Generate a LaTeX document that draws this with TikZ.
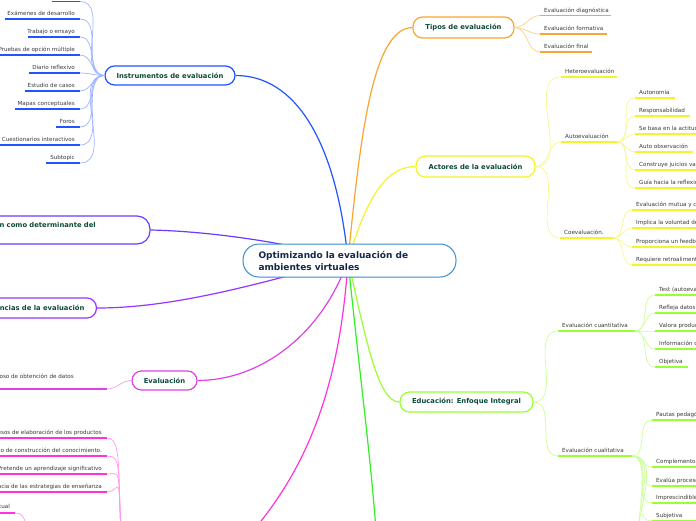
\documentclass[tikz,border=0pt]{standalone}
\usepackage{fontspec}
\setmainfont{DejaVu Sans}
\definecolor{ntext}{HTML}{0E4A3A}
\definecolor{rtext}{HTML}{14284B}
\definecolor{ltext}{HTML}{3A3A3A}
\definecolor{cRoot}{HTML}{3A8CCB}
\definecolor{cBlue}{HTML}{1F55FF}
\definecolor{cBlueL}{HTML}{9DB6FF}
\definecolor{cOr}{HTML}{F9A531}
\definecolor{cOrL}{HTML}{FCD08A}
\definecolor{cYe}{HTML}{F4F42A}
\definecolor{cYeL}{HTML}{F8F890}
\definecolor{cGr}{HTML}{99FF33}
\definecolor{cGrL}{HTML}{CCFF99}
\definecolor{cGreen}{HTML}{33EE22}
\definecolor{cMag}{HTML}{E040E8}
\definecolor{cMagL}{HTML}{F0A0F0}
\definecolor{cPink}{HTML}{FF33DD}
\definecolor{cPinkL}{HTML}{FF99EE}
\definecolor{cInd}{HTML}{6A3CFF}
\definecolor{cPur}{HTML}{9933FF}
\tikzset{
  mainnode/.style={draw, line width=1.2pt, rounded corners=9.5pt, fill=white,
    text=ntext, font=\fontsize{6.8}{8.2}\selectfont\bfseries, inner xsep=9pt,
    minimum height=20pt},
  leaf/.style={text=ltext, font=\fontsize{5.6}{6.6}\selectfont, inner sep=0pt},
  mainline/.style={line width=1.2pt},
  subline/.style={line width=0.7pt},
  uline/.style={line width=1.7pt}
}
\newcommand\lfR[6]{%
  \coordinate (#1) at (#3,#5);
  \draw[uline,#2] (#3,#5) -- (#4,#5);
  \node[leaf,anchor=base west] (#1t) at ({#3+4},{#5-3.5}) {#6};}
\newcommand\lfL[6]{%
  \coordinate (#1) at (#4,#5);
  \draw[uline,#2] (#3,#5) -- (#4,#5);
  \node[leaf,anchor=base east] (#1t) at ({#4-5},{#5-4}) {#6};}
\begin{document}
\begin{tikzpicture}[x=1pt,y=-1pt]
\useasboundingbox (0,0) rectangle (696,520);
\clip (0,0) rectangle (696,520);
\fill[white] (0,0) rectangle (696,520);

\coordinate (hub) at (348,260);

% ---------- main nodes ----------
\node[mainnode, draw=cOr, minimum width=101pt, minimum height=21pt] (tipos) at (463.5,27.5) {Tipos de evaluación};
\node[mainnode, draw=cYe, minimum width=119pt, minimum height=21pt] (actores) at (475.5,166.5) {Actores de la evaluación};
\node[mainnode, draw=cGr, minimum width=133pt] (edu) at (466.5,402) {Educación: Enfoque Integral};
\node[mainnode, draw=cBlue, minimum width=130pt, minimum height=19pt] (instr) at (170,75.5) {Instrumentos de evaluación};
\node[mainnode, draw=cInd, minimum width=210pt, minimum height=28pt, rounded corners=13pt, text width=186pt, align=left] (det) at (45,230) {La evaluación como determinante del\\aprendizaje};
\node[mainnode, draw=cPur, minimum height=20pt, anchor=east, inner xsep=12pt] (tend) at (97,308) {Tendencias de la evaluación};
\node[mainnode, draw=cMag, minimum width=65pt, minimum height=19pt] (eval) at (164.5,380.5) {Evaluación};

\coordinate (greenend) at (376,530);
\coordinate (pinkend) at (252,532);

% ---------- main connectors ----------
\draw[mainline,cOr] (hub) .. controls (360,140) and (372,28) .. (tipos.west);
\draw[mainline,cBlue] (hub) .. controls (336,140) and (295,75.5) .. (instr.east);
\draw[mainline,cYe] (hub) .. controls (366,200) and (385,166.5) .. (actores.west);
\draw[mainline,cGr] (hub) .. controls (366,340) and (378,402) .. (edu.west);
\draw[mainline,cGreen] (hub) .. controls (358,360) and (370,450) .. (greenend);
\draw[mainline,cPink] (hub) .. controls (340,390) and (305,470) .. (pinkend);
\draw[mainline,cMag] (hub) .. controls (322,335) and (260,380.5) .. (eval.east);
\draw[mainline,cPur] (hub) .. controls (270,280) and (180,308) .. (tend.east);
\draw[mainline,cInd] (hub) .. controls (280,240) and (200,231) .. (det.east);

% ---------- root ----------
\node[draw=cRoot, line width=1pt, fill=white, rounded corners=16pt,
  minimum width=213pt, minimum height=33pt, text width=182pt, align=left,
  text=rtext, font=\fontsize{9}{12}\selectfont\bfseries] (root) at (349.5,260.5)
  {Optimizando la evaluación de\\ambientes virtuales};

% ---------- Tipos ----------
\lfR{t1}{cOr}{540}{611}{15.5}{Evaluación diagnóstica}
\lfR{t2}{cOr}{540}{607}{34}{Evaluación formativa}
\lfR{t3}{cOr}{540}{592}{52}{Evaluación final}
\foreach \c in {t1,t2,t3} \draw[subline,cOrL] (tipos.east) to[out=0,in=180] (\c);

% ---------- Actores ----------
\lfR{a1}{cYe}{561}{617}{77}{Heteroevaluación}
\lfR{a2}{cYe}{561}{617}{142}{Autoevaluación}
\lfR{a3}{cYe}{560}{613}{238}{Coevaluación.}
\foreach \c in {a1,a2,a3} \draw[subline,cYeL] (actores.east) to[out=0,in=180] (\c);
\coordinate (a2e) at (617,142);
\lfR{b1}{cYe}{635}{675}{98}{Autonomía}
\lfR{b2}{cYe}{635}{690}{116}{Responsabilidad}
\lfR{b3}{cYe}{635}{700}{134}{Se basa en la actitud}
\lfR{b4}{cYe}{635}{693}{152}{Auto observación}
\lfR{b5}{cYe}{635}{700}{170}{Construye juicios valorativos}
\lfR{b6}{cYe}{635}{700}{188}{Guía hacia la reflexión}
\foreach \c in {b1,b2,b3,b4,b5,b6} \draw[subline,cYeL] (a2e) to[out=0,in=180] (\c);
\coordinate (a3e) at (613,238);
\lfR{c1}{cYe}{632}{700}{210}{Evaluación mutua y colaborativa}
\lfR{c2}{cYe}{632}{700}{228}{Implica la voluntad de todos}
\lfR{c3}{cYe}{632}{700}{247}{Proporciona un feedback}
\lfR{c4}{cYe}{632}{700}{265}{Requiere retroalimentación}
\foreach \c in {c1,c2,c3,c4} \draw[subline,cYeL] (a3e) to[out=0,in=180] (\c);

% ---------- Educación ----------
\lfR{e1}{cGr}{558}{635}{331}{Evaluación cuantitativa}
\lfR{e2}{cGr}{558}{632}{456}{Evaluación cualitativa}
\foreach \c in {e1,e2} \draw[subline,cGrL] (edu.east) to[out=0,in=180] (\c);
\coordinate (e1e) at (635,331);
\lfR{f1}{cGr}{655}{700}{295}{Test (autoevaluación)}
\lfR{f2}{cGr}{655}{700}{313}{Refleja datos numéricos}
\lfR{f3}{cGr}{655}{700}{331}{Valora productos}
\lfR{f4}{cGr}{655}{700}{349}{Información objetiva}
\lfR{f5}{cGr}{655}{688}{367}{Objetiva}
\foreach \c in {f1,f2,f3,f4,f5} \draw[subline,cGrL] (e1e) to[out=0,in=180] (\c);
\coordinate (e2e) at (632,456);
\lfR{g1}{cGr}{652}{700}{420}{Pautas pedagógicas}
\lfR{g2}{cGr}{652}{700}{467}{Complemento de la cuantitativa}
\lfR{g3}{cGr}{652}{700}{486}{Evalúa procesos}
\lfR{g4}{cGr}{652}{700}{503}{Imprescindible}
\lfR{g5}{cGr}{652}{700}{521}{Subjetiva}
\coordinate (g6) at (652,540);
\coordinate (g7) at (652,558);
\foreach \c in {g1,g2,g3,g4,g5,g6,g7} \draw[subline,cGrL] (e2e) to[out=0,in=180] (\c);

% ---------- Instrumentos ----------
\coordinate (i0) at (80,1.5);
\draw[uline,cBlue] (52,1.5) -- (80,1.5);
\lfL{i1}{cBlue}{5}{80}{19}{Exámenes de desarrollo}
\lfL{i2}{cBlue}{28}{80}{37}{Trabajo o ensayo}
\lfL{i3}{cBlue}{-2}{80}{55}{Pruebas de opción múltiple}
\lfL{i4}{cBlue}{29}{80}{73}{Diario reflexivo}
\lfL{i5}{cBlue}{25}{80}{91}{Estudio de casos}
\lfL{i6}{cBlue}{15}{80}{109}{Mapas conceptuales}
\lfL{i7}{cBlue}{56}{80}{127}{Foros}
\lfL{i8}{cBlue}{-2}{80}{145}{Cuestionarios interactivos}
\lfL{i9}{cBlue}{46}{80}{163}{Subtopic}
\foreach \c in {i0,i1,i2,i3,i4,i5,i6,i7,i8,i9} \draw[subline,cBlueL] (instr.west) to[out=180,in=0] (\c);

% ---------- Evaluación ----------
\coordinate (v1) at (107,389);
\draw[uline,cMag] (-2,389) -- (107,389);
\node[leaf,anchor=base east] (v1t) at (74,378) {Proceso riguroso de obtención de datos};
\draw[subline,cMagL] (eval.west) to[out=180,in=0] (v1);

% ---------- bottom pink branch ----------
\coordinate (phub) at (121,535);
\lfL{p1}{cPink}{-2}{107}{438}{Procesos de elaboración de los productos}
\lfL{p2}{cPink}{-2}{107}{456}{Proceso de construcción del conocimiento.}
\lfL{p3}{cPink}{-2}{107}{474}{Pretende un aprendizaje significativo}
\lfL{p4}{cPink}{-2}{107}{492}{Eficacia de las estrategias de enseñanza}
\foreach \c in {p1,p2,p3,p4} \draw[subline,cPinkL] (\c) .. controls +(14,0) and +(-3,-70) .. (phub);
\coordinate (q1) at (15,513);
\coordinate (qhub) at (28,535);
\draw[uline,cPink] (-2,513) -- (15,513);
\node[leaf,anchor=base east] (q1t) at (10,508.5) {Virtual};
\draw[subline,cPinkL] (q1) .. controls +(9,0) and +(-2,-14) .. (qhub);
\end{tikzpicture}
\end{document}
